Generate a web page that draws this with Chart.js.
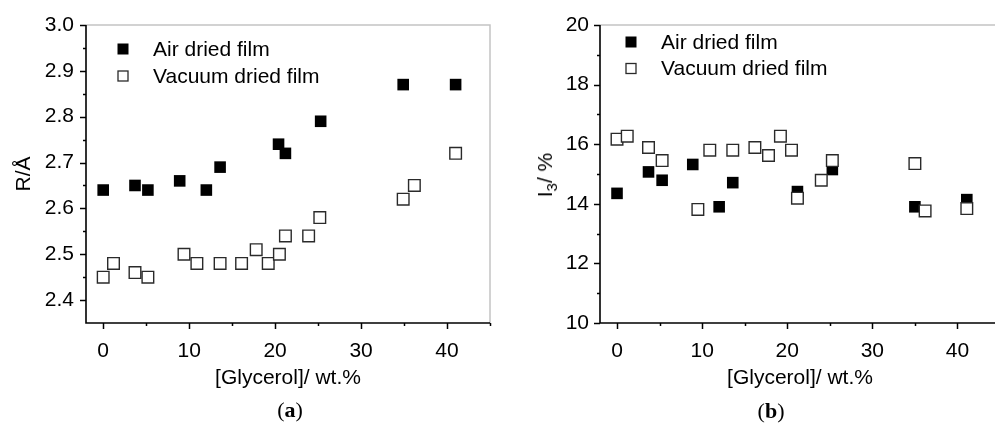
<!DOCTYPE html>
<html><head><meta charset="utf-8">
<script src="https://cdn.jsdelivr.net/npm/chart.js@4.4.0/dist/chart.umd.min.js"></script>
<style>
html,body{margin:0;padding:0;background:#fff;overflow:hidden;width:995px;height:423px;}
#wrap{position:relative;width:995px;height:423px;overflow:hidden;background:#fff;}
canvas{position:absolute;top:0;}
.lbl{position:absolute;font-family:"Liberation Serif","Times New Roman",serif;font-size:22px;color:#000;transform:translate(-50%,-50%);white-space:nowrap;}
.ytitle{position:absolute;font-family:"Liberation Sans",Arial,sans-serif;font-size:21px;color:#000;white-space:nowrap;transform:translate(-50%,-50%) rotate(-90deg);}
.ytitle sub{font-size:15px;vertical-align:-5px;line-height:0;}
</style></head>
<body><div id="wrap">
<canvas id="ca" width="500" height="423" style="left:0"></canvas>
<canvas id="cb" width="515" height="423" style="left:495px"></canvas>
<div class="lbl" style="left:290px;top:410px">(<b>a</b>)</div>
<div class="lbl" style="left:771px;top:411px">(<b>b</b>)</div>
<div class="ytitle" style="left:545px;top:175px">I<sub>3</sub>/ %</div>
</div>
<script>
// ---- data (a): R/Å ----
const airXa = [0, 3.7, 5.2, 8.9, 12.0, 13.6, 20.4, 21.2, 25.3, 34.9, 41.0];
const airR  = [2.64, 2.65, 2.64, 2.66, 2.64, 2.69, 2.74, 2.72, 2.79, 2.87, 2.87];
const vacXa = [0, 1.2, 3.7, 5.2, 9.4, 10.9, 13.6, 16.1, 17.8, 19.2, 20.5, 21.2, 23.9, 25.2, 34.9, 36.2, 41.0];
const vacR  = [2.45, 2.48, 2.46, 2.45, 2.50, 2.48, 2.48, 2.48, 2.51, 2.48, 2.50, 2.54, 2.54, 2.58, 2.62, 2.65, 2.72];
// ---- data (b): I3/% ----
const airXb = [0, 3.7, 5.3, 8.9, 12.0, 13.6, 21.2, 25.3, 35.0, 41.1];
const airI3 = [14.35, 15.07, 14.79, 15.32, 13.90, 14.71, 14.41, 15.15, 13.90, 14.14];
const vacXb = [0, 1.2, 3.7, 5.3, 9.5, 10.9, 13.6, 16.2, 17.8, 19.2, 20.5, 21.2, 24.0, 25.3, 35.0, 36.2, 41.1];
const vacI3 = [16.17, 16.27, 15.89, 15.45, 13.81, 15.80, 15.80, 15.89, 15.62, 16.27, 15.80, 14.19, 14.79, 15.45, 15.35, 13.76, 13.84];
const seriesNames = ['Air dried film', 'Vacuum dried film'];
const xTitle = '[Glycerol]/ wt.%';
// ---- tick positions (major ones get labels) ----
const xTicks  = [0, 5, 10, 15, 20, 25, 30, 35, 40, 45];
const xLabels = ['0', '', '10', '', '20', '', '30', '', '40', ''];
const yTicksA  = [2.4, 2.45, 2.5, 2.55, 2.6, 2.65, 2.7, 2.75, 2.8, 2.85, 2.9, 2.95, 3.0];
const yLabelsA = ['2.4', '', '2.5', '', '2.6', '', '2.7', '', '2.8', '', '2.9', '', '3.0'];
const yTicksB  = [10, 11, 12, 13, 14, 15, 16, 17, 18, 19, 20];
const yLabelsB = ['10', '', '12', '', '14', '', '16', '', '18', '', '20'];

const FONT = '"Liberation Sans", Arial, sans-serif';
const pts = (xs, ys) => xs.map((x, i) => ({x: x, y: ys[i]}));

const frameTicks = {
  id: 'frameTicks',
  afterDraw(chart, args, o) {
    const ctx = chart.ctx, a = chart.chartArea;
    ctx.save();
    ctx.lineCap = 'butt';
    ctx.strokeStyle = '#c4c4c4'; ctx.lineWidth = 1.5;
    ctx.beginPath(); ctx.moveTo(a.left, a.top); ctx.lineTo(a.right, a.top); ctx.lineTo(a.right, a.bottom); ctx.stroke();
    ctx.strokeStyle = '#000'; ctx.lineWidth = 1.6;
    ctx.beginPath(); ctx.moveTo(a.left, a.top); ctx.lineTo(a.left, a.bottom); ctx.lineTo(a.right, a.bottom); ctx.stroke();
    const xs = chart.scales.x, ys = chart.scales.y;
    ctx.lineWidth = 1.5;
    xs.ticks.forEach(t => {
      const len = t.label !== '' ? 6 : 3;
      const p = Math.round(xs.getPixelForValue(t.value)) + 0.5;
      ctx.beginPath(); ctx.moveTo(p, a.bottom); ctx.lineTo(p, a.bottom + len); ctx.stroke();
    });
    ys.ticks.forEach(t => {
      const len = t.label !== '' ? 6 : 3;
      const p = Math.round(ys.getPixelForValue(t.value)) + 0.5;
      ctx.beginPath(); ctx.moveTo(a.left, p); ctx.lineTo(a.left - len, p); ctx.stroke();
    });
    // legend
    const ds = chart.data.datasets;
    ctx.font = '21px ' + FONT; ctx.textBaseline = 'middle';
    ds.slice().sort((p, q) => p.legendIndex - q.legendIndex).forEach((d, i) => {
      const y = o.legY + i * o.legGap;
      const s = 11;
      ctx.fillStyle = d.backgroundColor;
      ctx.fillRect(o.legX - s / 2, y - s / 2, s, s);
      if (d.borderWidth) {
        ctx.strokeStyle = d.borderColor; ctx.lineWidth = 1.3;
        ctx.strokeRect(o.legX - s / 2 + 0.5, y - s / 2 + 0.5, s - 1, s - 1);
      }
      ctx.fillStyle = '#000';
      ctx.fillText(d.label, o.textX, y + 1);
    });
    ctx.restore();
  }
};

function setTicks(vals) {
  return s => { s.ticks = vals.map(v => ({ value: v })); };
}

function makeChart(id, airX, airY, vacX, vacY, yMin, yMax, yT, yL, yPad, yW, rightPad, yTitle, po) {
  return new Chart(document.getElementById(id), {
    type: 'scatter',
    data: {
      datasets: [
        { label: seriesNames[1], legendIndex: 1, data: pts(vacX, vacY), pointStyle: 'rect',
          pointRadius: 8.2, pointHoverRadius: 8.2, backgroundColor: '#ffffff', borderColor: '#2a2a2a', borderWidth: 1.4, order: 0 },
        { label: seriesNames[0], legendIndex: 0, data: pts(airX, airY), pointStyle: 'rect',
          pointRadius: 8.2, pointHoverRadius: 8.2, backgroundColor: '#000000', borderColor: '#000000', borderWidth: 0, order: 1 }
      ]
    },
    options: {
      responsive: false, animation: false, devicePixelRatio: 1,
      layout: { padding: { top: 25, right: rightPad, left: 0, bottom: 0 } },
      plugins: { legend: { display: false }, tooltip: { enabled: false }, frameTicks: po },
      scales: {
        x: {
          type: 'linear', min: -2, max: 45,
          grid: { display: false, drawTicks: true, tickLength: 6 },
          border: { display: false },
          afterBuildTicks: setTicks(xTicks),
          ticks: { autoSkip: false, maxRotation: 0, padding: 10, color: '#000',
                   font: { family: FONT, size: 21 },
                   callback: (v, i) => xLabels[i] },
          title: { display: true, text: xTitle, color: '#000', font: { family: FONT, size: 21 },
                   padding: { top: 0, bottom: 32 } },
          afterFit: s => { s.height = 100; }
        },
        y: {
          type: 'linear', min: yMin, max: yMax,
          grid: { display: false, drawTicks: true, tickLength: 6 },
          border: { display: false },
          afterBuildTicks: setTicks(yT),
          ticks: { autoSkip: false, padding: yPad, color: '#000', font: { family: FONT, size: 21 },
                   callback: (v, i) => yL[i] },
          title: yTitle,
          afterFit: s => { s.width = yW; }
        }
      }
    },
    plugins: [frameTicks]
  });
}

makeChart('ca', airXa, airR, vacXa, vacR, 2.35, 3.0, yTicksA, yLabelsA, 6, 86, 7,
  { display: true, text: 'R/Å', color: '#000', font: { family: FONT, size: 21 }, padding: { top: 12, bottom: 0 } },
  { legX: 123, legY: 49, legGap: 27, textX: 153 });

makeChart('cb', airXb, airI3, vacXb, vacI3, 10, 20, yTicksB, yLabelsB, 5, 105, 6,
  { display: false, text: '' },
  { legX: 136, legY: 42, legGap: 26.5, textX: 166 });
</script>
</body></html>
